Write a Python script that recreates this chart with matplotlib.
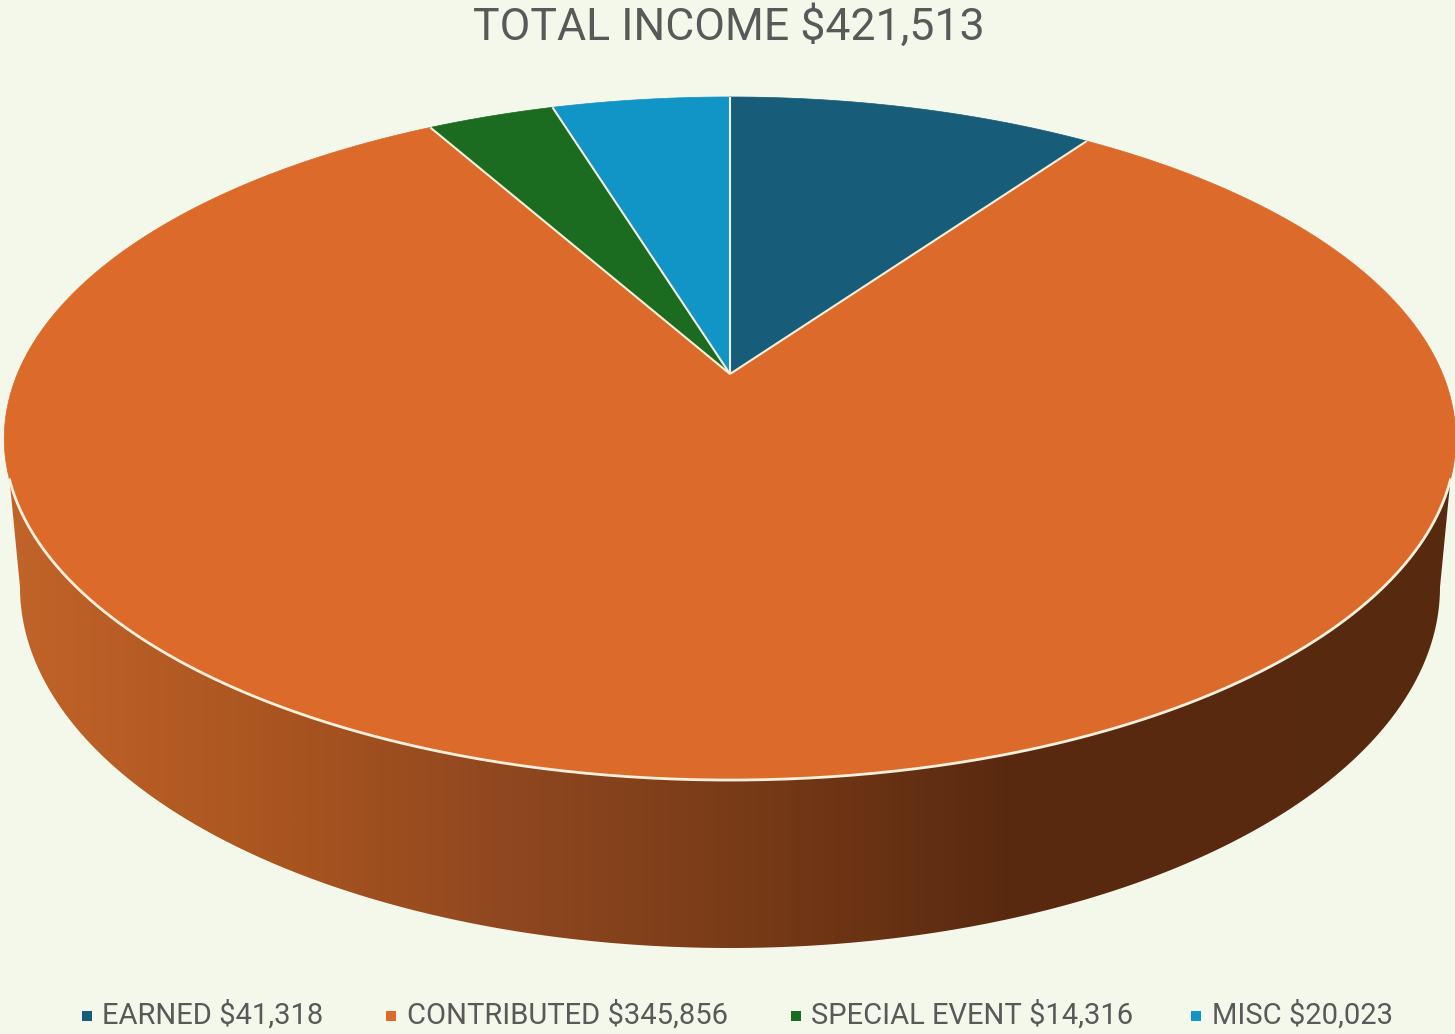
import numpy as np
import matplotlib
matplotlib.use("Agg")
import matplotlib.pyplot as plt
from matplotlib.colors import LinearSegmentedColormap
from matplotlib.patches import Polygon

# === Data ===
categories = ["EARNED", "CONTRIBUTED", "SPECIAL EVENT", "MISC"]
values = [41318, 345856, 14316, 20023]
colors = ["#175c78", "#dc6b2b", "#1b6b20", "#1194c6"]
title = "TOTAL INCOME $421,513"

BG = "#f4f8ea"
EDGE = "#f5f0dc"
TEXT = "#595959"

# === Perspective of the pie top, in image pixels ===
CX, CY = 730.0, 374.0
RX, TILT, PERSP = 712.7, 258.7, 0.1889


def top_point(theta):
    # theta runs clockwise from 12 o'clock
    w = 1 + PERSP * np.cos(theta)
    return CX + RX * np.sin(theta) / w, (CY - TILT * np.cos(theta)) / w


def arc(a, b, n=300):
    x, y = top_point(np.linspace(a, b, n))
    return np.column_stack([x, y])


fig = plt.figure(figsize=(14.55, 10.34), dpi=100, facecolor=BG)
ax = fig.add_axes([0, 0, 1, 1])

# === Side wall with horizontal shading ===
theta_l = np.arccos(-0.303)
front = arc(theta_l, 2 * np.pi - theta_l)
low_t = np.linspace(0, np.pi, 400)
low = np.column_stack([730 + 710 * np.cos(low_t), 587 + 361 * np.sin(low_t)])
wall = Polygon(np.vstack([front[::-1], low]), closed=True, facecolor="none", edgecolor="none")
ax.add_patch(wall)
shade = LinearSegmentedColormap.from_list("shade", [
    (0.0, "#c2642a"), (0.2, "#a8541f"), (0.35, "#8f4720"), (0.5, "#7a3c18"),
    (0.69, "#5a2a10"), (1.0, "#57290f")])
img = ax.imshow(np.linspace(0, 1, 512).reshape(1, -1), cmap=shade, aspect="auto",
                extent=[0, 1455, 1034, 0], zorder=1)
img.set_clip_path(wall)
ax.set_xlim(0, 1455)
ax.set_ylim(1034, 0)
ax.axis("off")

# === Top slices, clockwise from 12 o'clock ===
ends = np.cumsum(values) / np.sum(values) * 2 * np.pi
starts = np.r_[0, ends[:-1]]
for a, b, c in zip(starts, ends, colors):
    pts = np.vstack([[CX, CY], arc(a, b)])
    ax.add_patch(Polygon(pts, closed=True, facecolor=c, edgecolor=c, lw=0.5, zorder=2))
for a in starts:
    x, y = top_point(a)
    ax.plot([CX, x], [CY, y], color=EDGE, lw=1.5, zorder=3, solid_capstyle="butt")
ax.plot(front[:, 0], front[:, 1], color=EDGE, lw=2.0, zorder=3)

# === Title and legend ===
ax.text(728.5, 27, title, ha="center", va="center", fontsize=32.1, color=TEXT, family="Roboto")
marker_x = [86.5, 391, 796, 1195.5]
label_x = [102, 407, 811, 1212]
for name, val, c, mx, lx in zip(categories, values, colors, marker_x, label_x):
    ax.scatter([mx], [1016], marker="s", s=62, color=c, linewidths=0, zorder=3)
    ax.text(lx, 1015, f"{name} ${val:,}", ha="left", va="center", fontsize=21,
            color=TEXT, family="Roboto")

fig.savefig("out.png", dpi=100, facecolor=BG)
